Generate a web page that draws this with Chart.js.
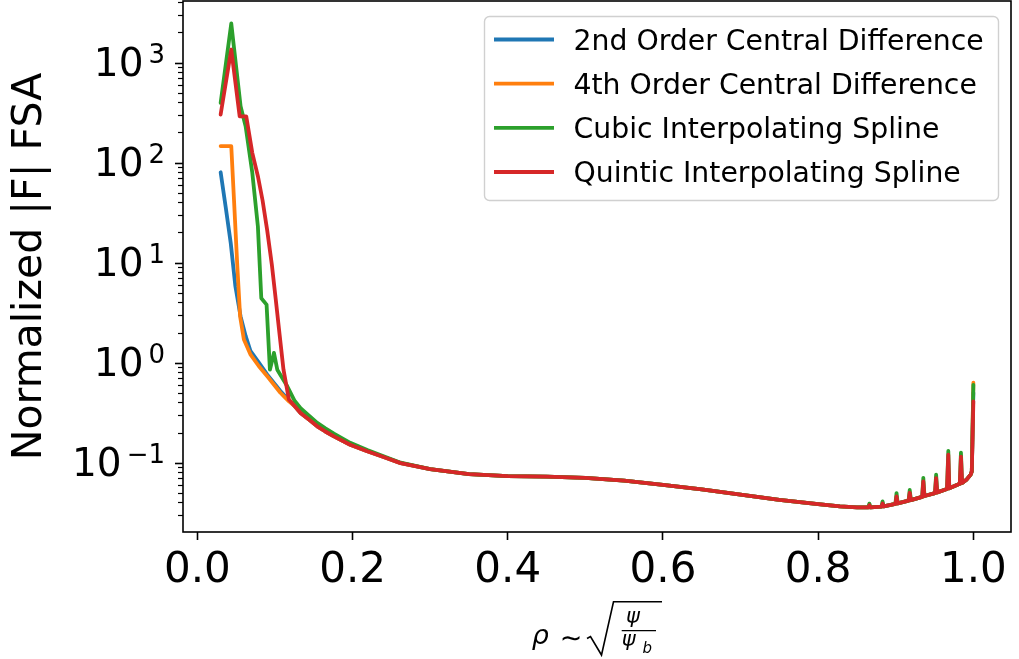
<!DOCTYPE html>
<html>
<head>
<meta charset="utf-8">
<script src="https://cdn.jsdelivr.net/npm/chart.js@4.4.1/dist/chart.umd.min.js"></script>
<style>
  html, body { margin: 0; padding: 0; background: #ffffff; }
  #wrap { width: 1019px; height: 659px; }
</style>
</head>
<body>
<div id="wrap"><canvas id="c" width="1019" height="659"></canvas></div>
<script>
// Flux-surface-averaged |F| for four derivative schemes, vs normalized radius rho.
const seriesNames = [
  '2nd Order Central Difference',
  '4th Order Central Difference',
  'Cubic Interpolating Spline',
  'Quintic Interpolating Spline'
];
const seriesColors = ['#1f77b4', '#ff7f0e', '#2ca02c', '#d62728'];

// Near-axis region: each scheme on its own rho samples
const rho2nd  = [0.030, 0.0365, 0.043, 0.049, 0.0557, 0.0622, 0.0686, 0.0793, 0.0901, 0.107, 0.118];
const head2nd = [80, 36, 15.7, 5.8, 2.9, 1.85, 1.3, 1.0, 0.76, 0.52, 0.42];

const rho4th  = [0.030, 0.0437, 0.0472, 0.0515, 0.0551, 0.060, 0.0686, 0.0793, 0.0901, 0.107, 0.118];
const head4th = [146, 146, 42.7, 9.2, 2.9, 1.7, 1.2, 0.92, 0.73, 0.50, 0.41];

const rhoCubic  = [0.030, 0.0437, 0.0557, 0.0622, 0.0708, 0.078, 0.0824, 0.0892, 0.0935, 0.0987, 0.103, 0.1159];
const headCubic = [395, 2455, 366, 231, 79, 23, 4.4, 3.8, 0.85, 1.25, 0.85, 0.58];

const rhoQuintic  = [0.030, 0.0437, 0.0545, 0.063, 0.0708, 0.078, 0.084, 0.090, 0.096, 0.101, 0.106, 0.111, 0.118];
const headQuintic = [302, 1349, 290, 290, 125, 73, 42, 21, 9.5, 4.3, 1.9, 0.85, 0.427];

// Shared rho samples from 0.125 outwards
const rhoTail = [
  0.125, 0.133, 0.145, 0.1545, 0.165, 0.176, 0.197, 0.219, 0.240, 0.262,
  0.30, 0.35, 0.40, 0.45, 0.50, 0.55, 0.60, 0.65, 0.70, 0.75, 0.80, 0.828, 0.85,
  0.8645, 0.8675, 0.8815, 0.8845, 0.8995, 0.9025, 0.9165, 0.9195,
  0.934, 0.937, 0.9505, 0.9535, 0.966, 0.969, 0.9825, 0.9855,
  0.9915, 0.9965, 0.998
];
const tailCentral = [
  0.37, 0.314, 0.265, 0.231, 0.205, 0.183, 0.151, 0.130, 0.114, 0.099,
  0.086, 0.077, 0.0735, 0.0725, 0.0705, 0.066, 0.060, 0.054, 0.048, 0.0425, 0.0385, 0.0366, 0.0358,
  0.0357, 0.0357, 0.0364, 0.0366, 0.0387, 0.0392, 0.0418, 0.0423,
  0.0455, 0.0464, 0.0497, 0.0505, 0.0545, 0.0555, 0.0615, 0.0628,
  0.068, 0.076, 0.082
];
const tailCubic = [
  0.42, 0.35, 0.29, 0.25, 0.22, 0.195, 0.158, 0.134, 0.116, 0.100,
  0.086, 0.077, 0.0735, 0.0725, 0.0705, 0.066, 0.060, 0.054, 0.048, 0.0425, 0.0385, 0.0366, 0.0358,
  0.0357, 0.0357, 0.0364, 0.0366, 0.0387, 0.0392, 0.0418, 0.0423,
  0.0455, 0.0464, 0.0497, 0.0505, 0.0545, 0.0555, 0.0615, 0.0628,
  0.068, 0.076, 0.082
];
const tailQuintic = tailCentral;

// Single-sample spikes of the spline schemes near the edge
const rhoSpikes     = [0.866, 0.883, 0.901, 0.918, 0.9355, 0.952, 0.9677, 0.984];
const spikesCubic   = [0.039, 0.041, 0.0497, 0.0534, 0.0704, 0.0759, 0.131, 0.126];
const spikesQuintic = [0.0375, 0.039, 0.046, 0.050, 0.065, 0.070, 0.120, 0.115];

// Last-surface values
const rhoEdge = 1.0;
const edgeValues = [0.50, 0.63, 0.60, 0.41];

// Axis ranges and tick decades
const rhoMin = -0.0185, rhoMax = 1.0485;
const fMin = Math.pow(10, -1.693), fMax = Math.pow(10, 3.615);
const decades = [-1, 0, 1, 2, 3];

function buildSeries(rhoHead, head, tail, spikes, edge) {
  const pts = rhoHead.map((x, i) => ({ x, y: head[i] }));
  rhoTail.forEach((x, i) => pts.push({ x, y: tail[i] }));
  if (spikes) rhoSpikes.forEach((x, i) => pts.push({ x, y: spikes[i] }));
  pts.push({ x: rhoEdge, y: edge });
  pts.sort((a, b) => a.x - b.x);
  return pts;
}

const seriesData = [
  buildSeries(rho2nd, head2nd, tailCentral, null, edgeValues[0]),
  buildSeries(rho4th, head4th, tailCentral, null, edgeValues[1]),
  buildSeries(rhoCubic, headCubic, tailCubic, spikesCubic, edgeValues[2]),
  buildSeries(rhoQuintic, headQuintic, tailQuintic, spikesQuintic, edgeValues[3])
];

const FONT = 'DejaVu Sans';

function inkAt(ctx, text, font, left, top) {
  ctx.font = font;
  const m = ctx.measureText(text);
  ctx.fillText(text, left + m.actualBoundingBoxLeft, top + m.actualBoundingBoxAscent);
}
function inkCentered(ctx, text, font, left, cy) {
  ctx.font = font;
  const m = ctx.measureText(text);
  const h = m.actualBoundingBoxAscent + m.actualBoundingBoxDescent;
  ctx.fillText(text, left + m.actualBoundingBoxLeft, cy - h / 2 + m.actualBoundingBoxAscent);
}

const decorations = {
  id: 'decorations',
  afterDatasetsDraw(chart) {
    const ctx = chart.ctx;
    const a = chart.chartArea;
    const ys = chart.scales.y;
    ctx.save();
    ctx.strokeStyle = '#000';
    ctx.fillStyle = '#000';

    // frame
    ctx.lineWidth = 1.6;
    ctx.strokeRect(a.left, a.top, a.right - a.left, a.bottom - a.top);

    // log ticks on the y axis
    for (let n = -2; n <= 3; n++) {
      for (let k = 1; k <= 9; k++) {
        const v = k * Math.pow(10, n);
        if (v < fMin || v > fMax) continue;
        const py = Math.round(ys.getPixelForValue(v)) + 0.5;
        const len = k === 1 ? 8 : 5;
        ctx.lineWidth = k === 1 ? 1.6 : 1.2;
        ctx.beginPath();
        ctx.moveTo(a.left - len, py);
        ctx.lineTo(a.left, py);
        ctx.stroke();
      }
    }

    // decade labels 10^n
    ctx.textAlign = 'left';
    ctx.textBaseline = 'alphabetic';
    decades.forEach(n => {
      const py = ys.getPixelForValue(Math.pow(10, n));
      const exp = n < 0 ? '\u2212' + Math.abs(n) : String(n);
      ctx.font = '26px ' + FONT;
      const mE = ctx.measureText(exp);
      const xe = 165 - mE.width;
      ctx.fillText(exp, xe, py);
      ctx.font = '39px ' + FONT;
      const mB = ctx.measureText('10');
      ctx.fillText('10', xe - 5 - mB.width, py + 13.5);
    });

    // x-axis label: rho ~ sqrt(psi / psi_b)
    inkAt(ctx, '\u03c1', 'italic 27px ' + FONT, 531.7, 629.3);
    inkCentered(ctx, '\u223c', '27px ' + FONT, 561.7, 638);
    ctx.lineWidth = 1.6;
    ctx.lineJoin = 'miter';
    ctx.beginPath();
    ctx.moveTo(587, 638.5);
    ctx.lineTo(590.5, 636.5);
    ctx.lineTo(601.5, 655);
    ctx.lineTo(613.5, 601.7);
    ctx.lineTo(662, 601.7);
    ctx.stroke();
    inkAt(ctx, '\u03c8', 'italic 21px ' + FONT, 626, 610.5);
    ctx.lineWidth = 1.3;
    ctx.beginPath();
    ctx.moveTo(621.7, 630.7);
    ctx.lineTo(656, 630.7);
    ctx.stroke();
    inkAt(ctx, '\u03c8', 'italic 21px ' + FONT, 621.7, 634);
    inkAt(ctx, 'b', 'italic 15px ' + FONT, 642.5, 641);
    ctx.restore();
  },
  afterDraw(chart) {
    const ctx = chart.ctx;
    ctx.save();
    // legend box
    ctx.beginPath();
    ctx.roundRect(484.5, 16.5, 514, 184, 5);
    ctx.fillStyle = 'rgba(255,255,255,0.8)';
    ctx.fill();
    ctx.lineWidth = 1.4;
    ctx.strokeStyle = '#d0d0d0';
    ctx.stroke();
    const rows = [39.5, 83.7, 127.8, 172];
    ctx.font = '28.3px ' + FONT;
    ctx.textAlign = 'left';
    ctx.textBaseline = 'alphabetic';
    chart.data.datasets.forEach((ds, i) => {
      const y = rows[i];
      ctx.strokeStyle = ds.borderColor;
      ctx.lineWidth = 3.8;
      ctx.lineCap = 'butt';
      ctx.beginPath();
      ctx.moveTo(494, y);
      ctx.lineTo(554, y);
      ctx.stroke();
      ctx.fillStyle = '#000';
      ctx.fillText(ds.label, 573.5, y + 10.3);
    });
    ctx.restore();
  }
};

new Chart(document.getElementById('c'), {
  type: 'line',
  data: {
    datasets: seriesNames.map((name, i) => ({
      label: name,
      data: seriesData[i],
      borderColor: seriesColors[i],
      backgroundColor: seriesColors[i],
      order: 4 - i
    }))
  },
  options: {
    responsive: false,
    animation: false,
    devicePixelRatio: 1,
    layout: { padding: { left: 0, right: 8, top: 1, bottom: 0 } },
    plugins: { legend: { display: false }, tooltip: { enabled: false } },
    elements: {
      point: { radius: 0 },
      line: { tension: 0, borderWidth: 3.8, borderJoinStyle: 'round', borderCapStyle: 'round' }
    },
    scales: {
      x: {
        type: 'linear',
        min: rhoMin,
        max: rhoMax,
        afterFit(s) { s.height = 127; },
        ticks: {
          stepSize: 0.2,
          includeBounds: false,
          autoSkip: false,
          maxRotation: 0,
          padding: 6,
          color: '#000',
          font: { family: FONT, size: 42 },
          callback: v => Number(v).toFixed(1)
        },
        grid: { display: true, drawOnChartArea: false, drawTicks: true, tickLength: 8, tickWidth: 1.6, tickColor: '#000' },
        border: { display: false }
      },
      y: {
        type: 'logarithmic',
        min: fMin,
        max: fMax,
        afterFit(s) { s.width = 183; },
        ticks: { display: false },
        grid: { display: false },
        border: { display: false },
        title: {
          display: true,
          text: 'Normalized |F| FSA',
          color: '#000',
          font: { family: FONT, size: 41 },
          padding: { top: 6, bottom: 0 }
        }
      }
    }
  },
  plugins: [decorations]
});
</script>
</body>
</html>
